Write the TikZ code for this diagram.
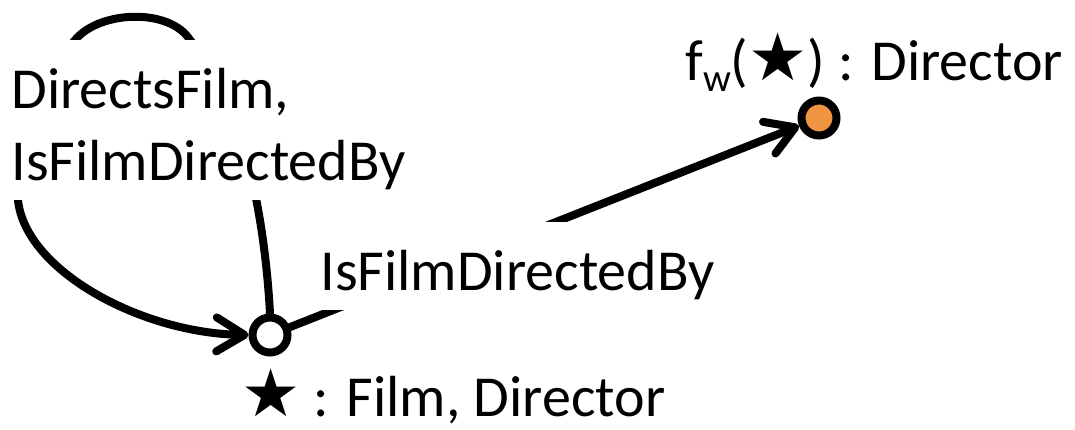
\documentclass[tikz,border=0pt]{standalone}
\usepackage{fontspec}
\setmainfont{Carlito}
\newfontfamily\symfont{DejaVu Sans}
\usetikzlibrary{arrows.meta}
\definecolor{nodeorange}{RGB}{241,148,65}
\newcommand{\bigstarsym}{{\symfont\fontsize{33}{36}\selectfont\char"2605}}
\tikzset{
  every node/.style={font=\fontsize{29}{36}\selectfont},
  vertex/.style={circle, draw=black, line width=4pt, minimum size=17.5pt, inner sep=0pt},
  edge/.style={line width=4pt, line cap=round, -{Straight Barb[length=14pt,width=17pt,line cap=round,line join=round]}},
  lbl/.style={inner sep=0pt},
  cutlbl/.style={fill=white, inner xsep=2pt, inner ysep=0pt, text height=34pt, text depth=10pt}
}
\begin{document}
\begin{tikzpicture}[x=0.5pt,y=-0.5pt]
\useasboundingbox (0,0) rectangle (1075,429);
\node[vertex, fill=white] (A) at (270,335) {};
\node[vertex, fill=nodeorange] (B) at (819,118) {};
% self loop
\draw[edge] (A.north) .. controls (266,240) and (250,110) .. (190,40)
  .. controls (170,8) and (100,10) .. (75,40)
  .. controls (50,70) and (15,140) .. (18,200)
  .. controls (25,270) and (140,333) .. (A.west);
\node[fill=white, inner xsep=2pt, inner ysep=0pt, align=left, anchor=north west] (loopl) at (7,40)
  {DirectsFilm,\rule{0pt}{34pt}\\IsFilmDirectedBy\rule[-10pt]{0pt}{10pt}};
% edge to B
\draw[edge] (A) -- (B);
\node[cutlbl, anchor=base west] (edl) at (316,290) {IsFilmDirectedBy};
% labels
\node[lbl, anchor=base west] (al) at (241,416) {\bigstarsym\ : Film, Director};
\node[lbl, anchor=base west] (bl) at (685,80) {f\raisebox{-5.5pt}{\fontsize{19.5}{20}\selectfont w}(\bigstarsym) : Director};
\end{tikzpicture}
\end{document}
